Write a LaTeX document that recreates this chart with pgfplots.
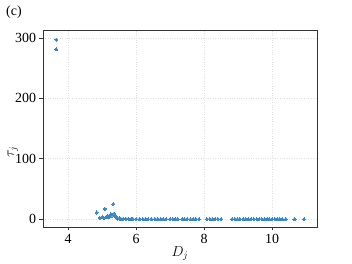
\documentclass[border=0pt]{standalone}
\usepackage{fontspec}
\setmainfont{Liberation Serif}
\usepackage{pgfplots}
\pgfplotsset{compat=1.18}
\definecolor{pt}{HTML}{3A87C8}
\begin{document}
\begin{tikzpicture}[font=\fontsize{14}{16}\selectfont]
\begin{axis}[
  scale only axis, width=274bp, height=197bp,
  at={(0,0)}, anchor=south west,
  xmin=3.26, xmax=11.32, ymin=-13, ymax=313,
  xtick={4,6,8,10}, ytick={0,100,200,300},
  tick align=outside, xtick pos=bottom, ytick pos=left,
  major tick length=3.5bp,
  tick style={black!80, line width=0.7pt},
  axis line style={black!80, line width=0.9pt},
  grid=major, grid style={gray!25, dotted, line width=0.6pt},
  /pgf/number format/assume math mode=true,
  tick label style={font=\fontsize{14}{16}\selectfont},
  label style={font=\fontsize{14}{16}\selectfont},
  xlabel={$D_j$}, ylabel={$\tau_j$},
  xlabel style={at={(0.5,-0.08)}, anchor=north},
  ylabel style={at={(-0.11,0.38)}, anchor=center},
  clip=false,
]
\addplot[only marks, mark=*, mark size=1.6pt, draw=pt, line width=0pt, fill=pt] coordinates {
(3.65,297) (3.65,281)
(4.84,11) (5.08,17) (5.33,25) (5.26,8)
(4.93,2) (5.0,3) (5.05,2) (5.12,3) (5.17,5) (5.21,4) (5.29,6) (5.35,9) (5.38,5) (5.41,3) (5.45,1)
(5.5,1) (5.55,0.5) (5.62,0.5) (5.7,0.3) (5.78,0.3) (5.85,0.2) (5.9,0.2) (6.0,0.2)
(6.1,0) (6.2,0) (6.28,0) (6.35,0) (6.45,0) (6.55,0) (6.63,0) (6.72,0) (6.8,0) (6.88,0)
(7.0,0) (7.08,0) (7.15,0) (7.22,0) (7.35,0) (7.42,0) (7.5,0) (7.6,0) (7.68,0) (7.75,0) (7.85,0)
(8.08,0) (8.17,0) (8.25,0) (8.32,0) (8.4,0) (8.5,0)
(8.82,0) (8.9,0) (8.98,0) (9.05,0) (9.15,0) (9.22,0) (9.3,0) (9.38,0) (9.46,0) (9.55,0) (9.62,0) (9.7,0) (9.78,0) (9.85,0) (9.92,0) (10.0,0) (10.08,0) (10.15,0) (10.22,0) (10.3,0) (10.4,0)
(10.66,0) (10.94,0)
};
\end{axis}
\node[anchor=north west, inner sep=0pt] at (-37bp,221bp) {(c)};
\path[use as bounding box] (-43bp,-29bp) rectangle (309bp,227bp);
\end{tikzpicture}
\end{document}
